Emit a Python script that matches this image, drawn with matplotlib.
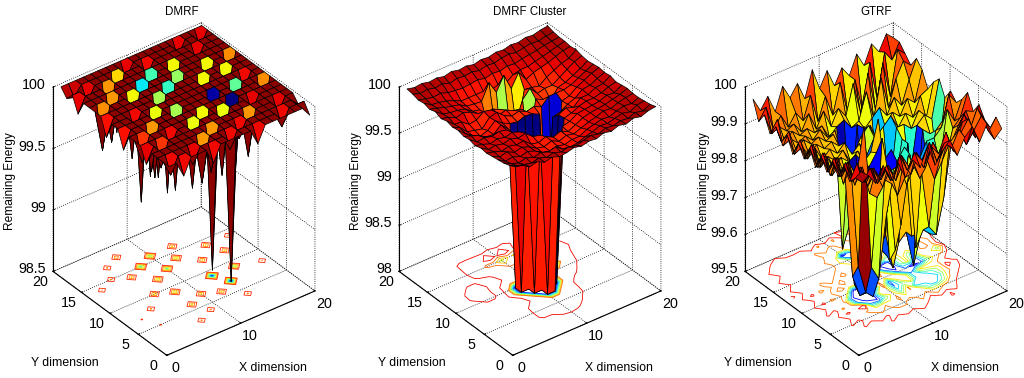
import numpy as np
import matplotlib
matplotlib.use("Agg")
import matplotlib.pyplot as plt
from mpl_toolkits.mplot3d import proj3d
from mpl_toolkits.mplot3d.art3d import Poly3DCollection

plt.rcParams['font.family'] = ['Liberation Sans', 'DejaVu Sans']

grid_x = np.arange(1, 21)
grid_y = np.arange(1, 21)

# DMRF: flat top with single node dips (x, y, energy)
dmrf_base = 99.98
dmrf_dip_x = [13, 16, 17, 19, 7, 10, 12, 14, 19, 5, 8, 10, 16, 4, 6, 8, 13, 14, 2, 6, 8, 10, 12, 14, 8, 4, 9, 7, 2, 3,
              19, 16, 17, 11, 9, 3, 18, 18, 17, 16, 12, 13, 10, 4, 1, 1, 5, 2, 1, 1, 3, 5, 7, 20, 20, 1, 2]
dmrf_dip_y = [16, 14, 12, 14, 18, 16, 14, 12, 8, 17, 15, 13, 9, 15, 14, 12, 9, 7, 14, 10, 9, 7, 6, 4, 6, 8, 4, 3, 7, 5,
              19, 19, 17, 18, 19, 18, 10, 4, 2, 6, 3, 1, 2, 11, 12, 9, 6, 2, 17, 5, 1, 2, 1, 3, 1, 19, 19]
dmrf_dip_z = [99.47, 99.47, 99.47, 99.64, 99.52, 99.15, 99.3, 99.47, 99.64, 99.62, 99.03, 99.12, 99.2, 99.62, 99.47,
              99.33, 98.55, 98.5, 99.64, 99.45, 99.33, 99.47, 99.45, 99.62, 99.45, 99.62, 99.62, 99.62, 99.78, 99.78,
              99.86, 99.86, 99.86, 99.85, 99.86, 99.86, 99.85, 99.86, 99.85, 99.86, 99.85, 99.85, 99.85, 99.85,
              99.84, 99.84, 99.85, 99.85, 99.86, 99.86, 99.85, 99.86, 99.85, 99.92, 99.9, 99.92, 99.9]

# DMRF Cluster, rows y = 1..20, columns x = 1..20
cluster_z = [
    [99.97, 99.95, 99.90, 99.92, 99.88, 99.90, 99.87, 99.88, 99.90, 99.88, 99.90, 99.89, 99.92, 99.90, 99.93, 99.91, 99.94, 99.92, 99.95, 99.96],
    [99.94, 99.90, 99.88, 99.86, 99.88, 99.85, 99.87, 99.84, 99.86, 99.84, 99.86, 99.88, 99.86, 99.89, 99.88, 99.90, 99.89, 99.92, 99.90, 99.94],
    [99.92, 99.88, 99.85, 99.87, 99.84, 99.86, 99.83, 99.85, 99.79, 99.78, 99.79, 99.82, 99.84, 99.87, 99.86, 99.88, 99.90, 99.88, 99.92, 99.93],
    [99.91, 99.86, 99.87, 99.84, 99.86, 99.83, 99.78, 99.76, 99.78, 99.76, 99.78, 99.78, 99.82, 99.84, 99.86, 99.85, 99.88, 99.90, 99.89, 99.92],
    [99.90, 99.86, 99.88, 99.84, 99.86, 99.83, 99.78, 99.76, 99.79, 99.75, 99.78, 99.76, 99.79, 99.82, 99.84, 99.87, 99.86, 99.89, 99.91, 99.92],
    [99.89, 99.87, 99.84, 99.86, 99.84, 99.85, 99.78, 99.76, 99.79, 99.75, 99.78, 99.74, 99.78, 99.82, 99.84, 99.85, 99.86, 99.88, 99.90, 99.93],
    [99.90, 99.85, 99.86, 99.84, 99.86, 99.83, 99.85, 99.78, 99.76, 98.00, 98.00, 99.75, 99.77, 99.82, 99.83, 99.84, 99.85, 99.88, 99.87, 99.92],
    [99.88, 99.86, 99.83, 99.85, 99.83, 99.85, 99.82, 99.75, 98.00, 98.00, 98.00, 98.00, 99.76, 99.78, 99.82, 99.84, 99.84, 99.86, 99.89, 99.91],
    [99.90, 99.84, 99.85, 99.83, 99.85, 99.83, 99.75, 98.00, 98.00, 98.00, 98.00, 98.00, 99.75, 99.79, 99.76, 99.83, 99.83, 99.87, 99.88, 99.93],
    [99.89, 99.86, 99.83, 99.78, 99.77, 99.84, 99.76, 98.00, 98.00, 98.00, 98.00, 98.00, 99.68, 99.70, 99.75, 99.78, 99.84, 99.85, 99.89, 99.92],
    [99.91, 99.84, 99.78, 99.74, 99.77, 99.84, 99.78, 99.74, 99.72, 99.75, 99.74, 99.70, 98.15, 98.15, 99.74, 99.76, 99.82, 99.86, 99.90, 99.93],
    [99.90, 99.86, 99.78, 99.76, 99.74, 99.83, 99.85, 99.78, 99.74, 99.76, 99.72, 99.74, 99.70, 99.78, 99.78, 99.78, 99.80, 99.84, 99.88, 99.92],
    [99.92, 99.85, 99.84, 99.78, 99.79, 99.85, 99.83, 99.74, 99.76, 99.72, 99.70, 99.12, 99.74, 99.70, 99.66, 99.76, 99.78, 99.82, 99.86, 99.91],
    [99.90, 99.88, 99.84, 99.86, 99.83, 99.78, 99.75, 99.76, 99.72, 99.50, 99.50, 99.72, 99.81, 99.72, 99.74, 99.74, 99.79, 99.84, 99.89, 99.92],
    [99.93, 99.87, 99.85, 99.84, 99.82, 99.76, 99.74, 99.55, 99.50, 99.12, 99.45, 99.32, 99.75, 99.74, 99.72, 99.78, 99.82, 99.86, 99.88, 99.94],
    [99.91, 99.89, 99.86, 99.84, 99.82, 99.77, 99.76, 99.75, 99.92, 99.78, 99.93, 99.75, 99.89, 99.78, 99.82, 99.84, 99.86, 99.89, 99.92, 99.93],
    [99.93, 99.88, 99.87, 99.85, 99.82, 99.78, 99.78, 99.78, 99.78, 99.76, 99.78, 99.76, 99.82, 99.84, 99.84, 99.86, 99.88, 99.90, 99.92, 99.94],
    [99.92, 99.90, 99.88, 99.89, 99.86, 99.85, 99.84, 99.85, 99.86, 99.84, 99.86, 99.85, 99.87, 99.86, 99.88, 99.89, 99.90, 99.92, 99.93, 99.94],
    [99.94, 99.91, 99.92, 99.90, 99.91, 99.88, 99.90, 99.89, 99.90, 99.88, 99.90, 99.89, 99.91, 99.92, 99.90, 99.92, 99.93, 99.92, 99.94, 99.95],
    [99.95, 99.93, 99.94, 99.92, 99.93, 99.91, 99.93, 99.91, 99.92, 99.90, 99.92, 99.91, 99.93, 99.92, 99.94, 99.93, 99.95, 99.94, 99.96, 99.97],
]

# GTRF, rows y = 1..20, columns x = 1..20
gtrf_z = [
    [99.98, 99.96, 99.93, 99.97, 99.92, 99.96, 99.91, 99.95, 99.92, 99.97, 99.91, 99.94, 99.96, 99.91, 99.95, 99.97, 99.92, 99.96, 99.91, 99.93],
    [99.95, 99.93, 99.96, 99.91, 99.94, 99.90, 99.96, 99.91, 99.95, 99.92, 99.96, 99.90, 99.94, 99.92, 99.96, 99.91, 99.94, 99.97, 99.92, 99.95],
    [99.93, 99.97, 99.91, 99.94, 99.90, 99.93, 99.89, 99.94, 99.90, 99.93, 99.88, 99.93, 99.90, 99.95, 99.89, 99.93, 99.96, 99.90, 99.94, 99.91],
    [99.96, 99.91, 99.94, 99.89, 99.92, 99.88, 99.91, 99.86, 99.90, 99.86, 99.90, 99.86, 99.92, 99.87, 99.91, 99.88, 99.94, 99.91, 99.96, 99.92],
    [99.92, 99.95, 99.89, 99.92, 99.86, 99.89, 99.84, 99.88, 99.80, 99.84, 99.88, 99.82, 99.86, 99.80, 99.84, 99.88, 99.90, 99.94, 99.90, 99.95],
    [99.95, 99.90, 99.93, 99.86, 99.90, 99.82, 99.80, 99.84, 99.82, 99.86, 99.80, 99.84, 99.82, 99.66, 99.63, 99.72, 99.86, 99.90, 99.93, 99.92],
    [99.91, 99.94, 99.88, 99.91, 99.86, 99.99, 99.60, 99.56, 99.72, 99.84, 99.68, 99.86, 99.60, 99.64, 99.62, 99.65, 99.80, 99.88, 99.90, 99.96],
    [99.94, 99.89, 99.92, 99.84, 99.88, 99.60, 99.52, 99.50, 99.84, 99.82, 99.60, 99.70, 99.84, 99.62, 99.64, 99.70, 99.78, 99.92, 99.88, 99.93],
    [99.90, 99.93, 99.86, 99.90, 99.84, 99.56, 99.50, 99.50, 99.56, 99.90, 99.56, 99.82, 99.85, 99.60, 99.80, 99.84, 99.84, 99.86, 99.94, 99.91],
    [99.94, 99.88, 99.91, 99.84, 99.86, 99.82, 99.52, 99.54, 99.82, 99.85, 99.82, 99.84, 99.58, 99.60, 99.50, 99.58, 99.72, 99.84, 99.86, 99.93],
    [99.90, 99.93, 99.86, 99.88, 99.84, 99.86, 99.84, 99.85, 99.82, 99.84, 99.92, 99.60, 99.50, 99.70, 99.82, 99.58, 99.84, 99.82, 99.72, 99.90],
    [99.93, 99.88, 99.91, 99.84, 99.86, 99.84, 99.86, 99.82, 99.84, 99.80, 99.62, 99.55, 99.52, 99.70, 99.82, 99.70, 99.84, 99.86, 99.84, 99.94],
    [99.89, 99.92, 99.86, 99.88, 99.84, 99.86, 99.84, 99.86, 99.82, 99.84, 99.80, 99.84, 99.82, 99.66, 99.84, 99.84, 99.82, 99.86, 99.83, 99.92],
    [99.93, 99.87, 99.88, 99.85, 99.87, 99.85, 99.86, 99.84, 99.82, 99.80, 99.84, 99.86, 99.82, 99.84, 99.86, 99.82, 99.85, 99.83, 99.88, 99.89],
    [99.90, 99.92, 99.86, 99.88, 99.86, 99.87, 99.85, 99.86, 99.80, 99.78, 99.55, 99.58, 99.84, 99.66, 99.82, 99.85, 99.83, 99.87, 99.85, 99.93],
    [99.93, 99.87, 99.88, 99.86, 99.87, 99.85, 99.87, 99.84, 99.85, 99.52, 99.58, 99.84, 99.82, 99.84, 99.86, 99.83, 99.87, 99.84, 99.90, 99.95],
    [99.90, 99.93, 99.86, 99.88, 99.86, 99.87, 99.85, 99.86, 99.82, 99.84, 99.85, 99.82, 99.83, 99.90, 99.82, 99.92, 99.83, 99.90, 99.94, 99.92],
    [99.94, 99.88, 99.89, 99.87, 99.88, 99.85, 99.89, 99.84, 99.88, 99.83, 99.87, 99.84, 99.92, 99.83, 99.93, 99.82, 99.94, 99.84, 99.96, 99.94],
    [99.91, 99.94, 99.87, 99.90, 99.86, 99.89, 99.86, 99.92, 99.84, 99.90, 99.84, 99.92, 99.83, 99.91, 99.82, 99.94, 99.83, 99.95, 99.92, 99.96],
    [99.96, 99.92, 99.95, 99.90, 99.96, 99.92, 99.95, 99.90, 99.97, 99.91, 99.95, 99.90, 99.94, 99.91, 99.96, 99.92, 99.97, 99.94, 99.98, 99.96],
]

titles = ['DMRF', 'DMRF Cluster', 'GTRF']
z_ranges = [(98.5, 100), (98, 100), (99.5, 100)]
x_ticks = [0, 10, 20]
y_ticks = [0, 5, 10, 15, 20]
z_ticks = [[98.5, 99, 99.5, 100], [98, 98.5, 99, 99.5, 100], [99.5, 99.6, 99.7, 99.8, 99.9, 100]]
z_tick_labels = [['98.5', '99', '99.5', '100'], ['98', '98.5', '99', '99.5', '100'],
                 ['99.5', '99.6', '99.7', '99.8', '99.9', '100']]
contour_levels = [[98.6, 98.75, 98.9, 99.05, 99.2, 99.35, 99.5, 99.65, 99.8],
                  [98.2, 98.4, 98.6, 98.8, 99.0, 99.2, 99.4, 99.6, 99.8],
                  [99.55, 99.6, 99.65, 99.7, 99.75, 99.8, 99.85, 99.9]]
contour_tops = [100, 100, 99.95]
centers_x = [184, 530, 876]

dmrf_z = np.full((20, 20), dmrf_base)
dmrf_z[np.array(dmrf_dip_y) - 1, np.array(dmrf_dip_x) - 1] = dmrf_dip_z
surfaces = [dmrf_z, np.array(cluster_z), np.array(gtrf_z)]

W, H = 1024, 378
side = 400
fig = plt.figure(figsize=(W / 100, H / 100), dpi=100)
X, Y = np.meshgrid(grid_x, grid_y)


def tick_text(ax, x, y, z, s, dx, dy, ha):
    # put a tick label a few pixels away from where the tick projects
    u, v, _ = proj3d.proj_transform(x, y, z, ax.get_proj())
    ax.annotate(s, xy=(u, v), xycoords='data', xytext=(dx, dy), textcoords='offset pixels',
                fontsize=10.3, ha=ha, va='center', annotation_clip=False)


for i in range(3):
    zmin, zmax = z_ranges[i]
    Z = surfaces[i]
    norm = plt.Normalize(zmin, zmax)
    left = centers_x[i] - 0.5135 * side
    bottom = (H - 189) - 0.5135 * side
    ax = fig.add_axes([left / W, bottom / H, side / W, side / H], projection='3d', computed_zorder=False)
    ax.patch.set_visible(False)
    ax.set_proj_type('ortho')
    ax.view_init(elev=34.5, azim=-127.5)
    ax.set_box_aspect((187, 187, 224), zoom=0.84)

    ax.contour(X, Y, Z, levels=contour_levels[i], zdir='z', offset=zmin, cmap='jet',
               norm=plt.Normalize(zmin, contour_tops[i]), linewidths=0.6, zorder=1)

    # faces drawn back to front, each with the colour of its first corner
    order = 0
    for r in range(18, -1, -1):
        for c in range(18, -1, -1):
            verts = [(X[r, c], Y[r, c], Z[r, c]), (X[r, c + 1], Y[r, c + 1], Z[r, c + 1]),
                     (X[r + 1, c + 1], Y[r + 1, c + 1], Z[r + 1, c + 1]), (X[r + 1, c], Y[r + 1, c], Z[r + 1, c])]
            face = Poly3DCollection([verts], facecolors=[plt.cm.jet(norm(Z[r, c]))], edgecolors='black',
                                    linewidths=0.5, zorder=2 + order * 0.001)
            ax.add_collection3d(face, autolim=False)
            order += 1

    ax.set_xlim(0, 20)
    ax.set_ylim(0, 20)
    ax.set_zlim(zmin, zmax)

    for axis in (ax.xaxis, ax.yaxis, ax.zaxis):
        axis.set_pane_color((1, 1, 1, 0))
        axis.pane.set_edgecolor((1, 1, 1, 0))
        axis.line.set_color('black')
        axis.line.set_linewidth(0.8)
        axis._axinfo['grid'].update(color='black', linestyle=':', linewidth=0.6)
        axis._axinfo['tick'].update(inward_factor=0.0, outward_factor=0.1)

    ax.set_xticks(x_ticks)
    ax.set_yticks(y_ticks)
    ax.set_zticks(z_ticks[i])
    ax.set_xticklabels([])
    ax.set_yticklabels([])
    ax.set_zticklabels([])

    for t in x_ticks:
        tick_text(ax, t, 0, zmin, str(t), 9, -13, 'center')
    for t in y_ticks:
        tick_text(ax, 0, t, zmin, str(t), -13, -11, 'center')
    for t, s in zip(z_ticks[i], z_tick_labels[i]):
        tick_text(ax, 0, 20, t, s, -7, 2, 'right')

label_title_x = [182, 530, 876]
label_y_x = [65, 412, 758]
label_x_x = [273, 619, 965]
label_z_x = [10, 356, 704]
for i in range(3):
    fig.text(label_title_x[i] / W, 1 - 12 / H, titles[i], fontsize=8.3, ha='center', va='center')
    fig.text(label_y_x[i] / W, 1 - 363 / H, 'Y dimension', fontsize=8.8, ha='center', va='center')
    fig.text(label_x_x[i] / W, 1 - 368 / H, 'X dimension', fontsize=8.8, ha='center', va='center')
    fig.text(label_z_x[i] / W, 1 - 181 / H, 'Remaining Energy', fontsize=8.6, rotation=90, ha='center', va='center')

fig.savefig('out.png', dpi=100)
